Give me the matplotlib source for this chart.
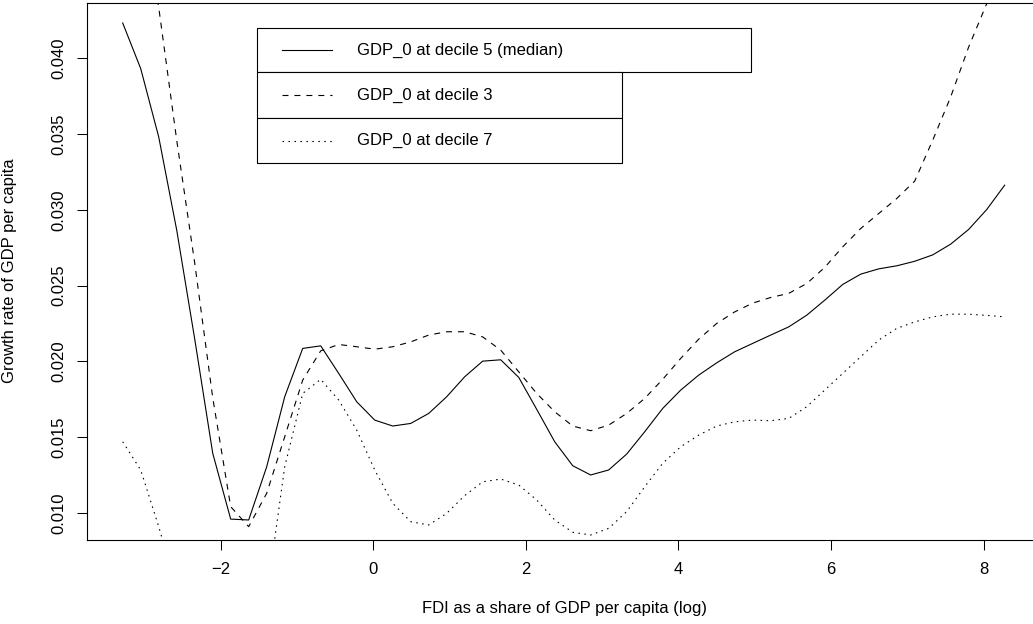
import matplotlib
matplotlib.use('Agg')
import matplotlib.pyplot as plt
from matplotlib.patches import Rectangle
from matplotlib.lines import Line2D

plt.rcParams['font.family'] = ['Liberation Sans', 'DejaVu Sans']
plt.rcParams['lines.scale_dashes'] = False

# FDI grid (log share)
fdi = [-3.284, -3.048, -2.812, -2.576, -2.340, -2.104, -1.869, -1.633, -1.397, -1.161,
       -0.925, -0.689, -0.453, -0.217, 0.019, 0.255, 0.490, 0.726, 0.962, 1.198,
       1.434, 1.670, 1.906, 2.142, 2.378, 2.614, 2.849, 3.085, 3.321, 3.557,
       3.793, 4.029, 4.265, 4.501, 4.737, 4.972, 5.208, 5.444, 5.680, 5.916,
       6.152, 6.388, 6.624, 6.860, 7.096, 7.331, 7.567, 7.803, 8.039, 8.275]

# predicted growth, GDP_0 at decile 5 (median)
g_dec5 = [0.04233, 0.03932, 0.03481, 0.02866, 0.02147, 0.01394, 0.00960, 0.00954, 0.01305, 0.01767,
          0.02086, 0.02103, 0.01921, 0.01734, 0.01613, 0.01574, 0.01591, 0.01657, 0.01767, 0.01899,
          0.02002, 0.02011, 0.01895, 0.01684, 0.01470, 0.01312, 0.01251, 0.01284, 0.01389, 0.01536,
          0.01690, 0.01811, 0.01910, 0.01991, 0.02064, 0.02119, 0.02174, 0.02228, 0.02305, 0.02404,
          0.02508, 0.02576, 0.02611, 0.02631, 0.02661, 0.02703, 0.02774, 0.02871, 0.03002, 0.03163]

# GDP_0 at decile 3
g_dec3 = [0.05750, 0.05050, 0.04336, 0.03459, 0.02648, 0.01760, 0.01042, 0.00910, 0.01130, 0.01503,
          0.01877, 0.02070, 0.02112, 0.02097, 0.02081, 0.02097, 0.02129, 0.02174, 0.02196, 0.02196,
          0.02162, 0.02075, 0.01932, 0.01789, 0.01668, 0.01574, 0.01543, 0.01580, 0.01657, 0.01756,
          0.01882, 0.02020, 0.02147, 0.02251, 0.02327, 0.02385, 0.02422, 0.02449, 0.02514, 0.02620,
          0.02756, 0.02877, 0.02976, 0.03075, 0.03190, 0.03459, 0.03745, 0.04075, 0.04360, 0.04680]

# GDP_0 at decile 7
g_dec7 = [0.01470, 0.01284, 0.00910, 0.00500, 0.00250, 0.00120, 0.00100, 0.00180, 0.00448, 0.01305,
          0.01789, 0.01882, 0.01745, 0.01547, 0.01284, 0.01064, 0.00943, 0.00921, 0.00998, 0.01115,
          0.01206, 0.01224, 0.01185, 0.01086, 0.00954, 0.00873, 0.00855, 0.00899, 0.01009, 0.01173,
          0.01328, 0.01437, 0.01514, 0.01574, 0.01602, 0.01613, 0.01609, 0.01624, 0.01701, 0.01811,
          0.01921, 0.02031, 0.02141, 0.02218, 0.02261, 0.02294, 0.02312, 0.02312, 0.02304, 0.02294]

labels = ['GDP_0 at decile 5 (median)', 'GDP_0 at decile 3', 'GDP_0 at decile 7']
xticks = [-2, 0, 2, 4, 6, 8]
yticks = [0.010, 0.015, 0.020, 0.025, 0.030, 0.035, 0.040]

W, H = 1033, 624
FS = 12
fig = plt.figure(figsize=(W / 100, H / 100), dpi=100)

def fx(px):
    return px / W

def fy(py):
    return 1 - py / H

ax = fig.add_axes([fx(87), fy(540), fx(1042 - 87), (540 - 3) / H])

styles = ['-', (0, (4.3, 4.3)), (0, (1.1, 3.2))]
for ys, ls in zip([g_dec5, g_dec3, g_dec7], styles):
    ax.plot(fdi, ys, color='black', lw=0.8, linestyle=ls)

ax.set_xlim(-3.752, 8.764)
ax.set_ylim(0.00822, 0.04365)
ax.set_xticks(xticks)
ax.set_xticklabels([f'{t:g}'.replace('-', '\u2212') for t in xticks])
ax.set_yticks(yticks)
ax.set_yticklabels([f'{t:.3f}' for t in yticks], rotation=90, va='center')
ax.tick_params(axis='both', length=7.5, width=0.75, labelsize=FS, color='black')
ax.tick_params(axis='x', pad=8)
ax.tick_params(axis='y', pad=7.5)
for s in ax.spines.values():
    s.set_linewidth(0.8)
    s.set_color('black')

fig.text(fx(564), fy(608), 'FDI as a share of GDP per capita (log)', ha='center', va='center', fontsize=FS)
fig.text(fx(10), fy(271), 'Growth rate of GDP per capita', ha='center', va='center', rotation=90, fontsize=FS)

# stacked legend boxes, one per curve
boxes = [(256.7, 28.3, 750.7, 72.3), (256.7, 72.3, 621.7, 118.3), (256.7, 118.3, 621.7, 163.3)]
for (x0, y0, x1, y1), lab, ls in zip(boxes, labels, styles):
    fig.patches.append(Rectangle((fx(x0), fy(y1)), fx(x1 - x0), (y1 - y0) / H,
                                 transform=fig.transFigure, fill=True, facecolor='white',
                                 edgecolor='black', lw=0.8, zorder=5))
    yc = fy((y0 + y1) / 2)
    fig.lines.append(Line2D([fx(281.7), fx(331.7)], [yc, yc], transform=fig.transFigure,
                            color='black', lw=0.8, linestyle=ls, zorder=6))
    fig.text(fx(357.3), yc, lab, ha='left', va='center', fontsize=FS, zorder=6)

fig.savefig('out.png', dpi=100)
